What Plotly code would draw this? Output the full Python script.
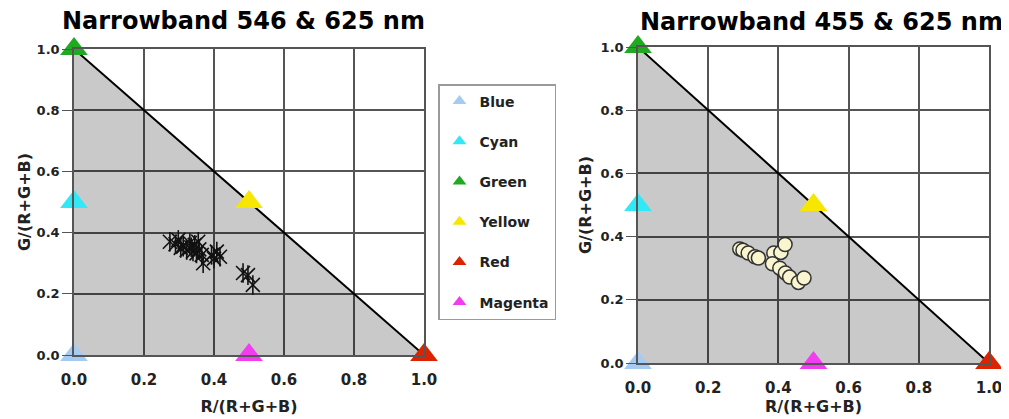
import plotly.graph_objects as go

# ---- data ----
primary_names = ["Blue", "Cyan", "Green", "Yellow", "Red", "Magenta"]
primary_r = [0.0, 0.0, 0.0, 0.5, 1.0, 0.5]
primary_g = [0.0, 0.5, 1.0, 0.5, 0.0, 0.0]
primary_colors = ["#a6cbf2", "#30e8f6", "#1faa22", "#f7e600", "#dd2200", "#f23cf0"]

boundary_r = [0.0, 1.0]
boundary_g = [1.0, 0.0]

nb546_r = [0.274, 0.290, 0.298, 0.305, 0.312, 0.322, 0.331, 0.335, 0.340, 0.345, 0.350,
           0.355, 0.358, 0.365, 0.369, 0.393, 0.400, 0.408, 0.417, 0.483, 0.497, 0.511]
nb546_g = [0.370, 0.362, 0.376, 0.350, 0.354, 0.343, 0.366, 0.352, 0.338, 0.360, 0.332,
           0.370, 0.345, 0.327, 0.300, 0.327, 0.315, 0.338, 0.321, 0.268, 0.261, 0.229]

nb455_r = [0.290, 0.299, 0.314, 0.333, 0.343, 0.387, 0.407, 0.419, 0.383, 0.404,
           0.420, 0.432, 0.457, 0.473]
nb455_g = [0.361, 0.357, 0.348, 0.336, 0.332, 0.348, 0.350, 0.375, 0.314, 0.300,
           0.285, 0.272, 0.255, 0.269]

tick_vals = [0.0, 0.2, 0.4, 0.6, 0.8, 1.0]
tick_text = ["0.0", "0.2", "0.4", "0.6", "0.8", "1.0"]

FONT = "DejaVu Sans"
GRID = "#555555"

# page body has an 8px margin; figure is sized to fit the window
OFF = 8
W, H = 1009 - OFF, 419 - OFF


def fx(p):
    return (p - OFF) / W


def fy(p):
    return 1 - (p - OFF) / H


fig = go.Figure()

for xa, ya, rr, gg, kind, show in [("x", "y", nb546_r, nb546_g, "star", True),
                                   ("x2", "y2", nb455_r, nb455_g, "circle", False)]:
    # gamut region
    fig.add_trace(go.Scatter(x=boundary_r, y=boundary_g, mode="lines", fill="tozeroy",
                             fillcolor="rgba(0,0,0,0.21)", line=dict(color="black", width=2),
                             showlegend=False, hoverinfo="skip", xaxis=xa, yaxis=ya))
    if kind == "star":
        for sym in ["x-thin-open", "line-ns-open"]:
            fig.add_trace(go.Scatter(x=rr, y=gg, mode="markers", showlegend=False,
                                     marker=dict(symbol=sym, size=14, color="#111111",
                                                 line=dict(color="#111111", width=1.6)),
                                     xaxis=xa, yaxis=ya))
    else:
        fig.add_trace(go.Scatter(x=rr, y=gg, mode="markers", showlegend=False,
                                 marker=dict(symbol="circle", size=14, color="#f8f5cf",
                                             line=dict(color="#333333", width=1.5)),
                                 xaxis=xa, yaxis=ya))
    for i, name in enumerate(primary_names):
        fig.add_trace(go.Scatter(x=[primary_r[i]], y=[primary_g[i]], mode="markers",
                                 name=name, legendgroup=name, showlegend=show,
                                 cliponaxis=False,
                                 marker=dict(symbol="triangle-up", size=24,
                                             color=primary_colors[i]),
                                 xaxis=xa, yaxis=ya))

axis_common = dict(range=[0, 1], tickvals=tick_vals, ticktext=tick_text,
                   showgrid=True, gridcolor=GRID, gridwidth=1.5, zeroline=False,
                   showline=True, mirror=True, linecolor=GRID, linewidth=1.5,
                   fixedrange=True, automargin=False)

tickfont_x = dict(family=FONT, size=15, color="#222", weight="bold")
tickfont_y = dict(family=FONT, size=13, color="#222", weight="bold")
titlefont = dict(family=FONT, size=16, color="#222", weight="bold")

fig.update_layout(
    width=W, height=H,
    margin=dict(l=0, r=0, t=0, b=0, autoexpand=False),
    paper_bgcolor="white", plot_bgcolor="white",
    showlegend=True,
    legend=dict(x=fx(438), y=fy(84), xanchor="left", yanchor="top",
                bordercolor="#9a9a9a", borderwidth=1.5, bgcolor="white",
                font=dict(family=FONT, size=14, color="#222", weight="bold"),
                itemsizing="constant", tracegroupgap=19, itemwidth=30),
    xaxis=dict(domain=[fx(74), fx(424)], anchor="y", ticks="",
               ticklabelstandoff=10, tickfont=tickfont_x,
               title=dict(text="R/(R+G+B)", font=titlefont, standoff=13), **axis_common),
    yaxis=dict(domain=[fy(355), fy(49)], anchor="x", ticks="outside",
               ticklen=10, tickcolor=GRID, tickfont=tickfont_y,
               title=dict(text="G/(R+G+B)", font=titlefont, standoff=2), **axis_common),
    xaxis2=dict(domain=[fx(638), fx(989)], anchor="y2", ticks="",
                ticklabelstandoff=10, tickfont=tickfont_x,
                title=dict(text="R/(R+G+B)", font=titlefont, standoff=3), **axis_common),
    yaxis2=dict(domain=[fy(363), fy(47)], anchor="x2", ticks="outside",
                ticklen=10, tickcolor=GRID, tickfont=tickfont_y,
                title=dict(text="G/(R+G+B)", font=titlefont, standoff=5), **axis_common),
    annotations=[
        dict(text="Narrowband 546 & 625 nm", xref="paper", yref="paper",
             x=fx(243), y=fy(20.5), xanchor="center", yanchor="middle", borderpad=0,
             showarrow=False, font=dict(family=FONT, size=24, color="black", weight="bold")),
        dict(text="Narrowband 455 & 625 nm", xref="paper", yref="paper",
             x=fx(821), y=fy(21.5), xanchor="center", yanchor="middle", borderpad=0,
             showarrow=False, font=dict(family=FONT, size=24, color="black", weight="bold")),
    ],
)

fig.write_html("out.html")
